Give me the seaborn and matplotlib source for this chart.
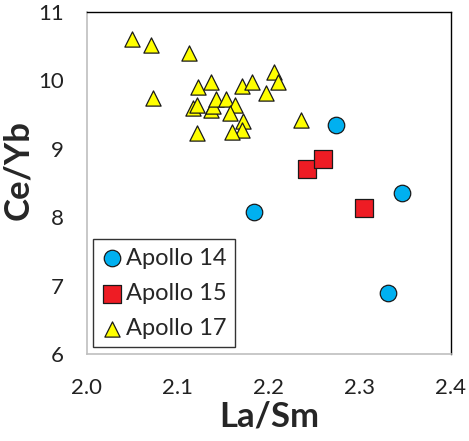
import matplotlib
matplotlib.use("Agg")
import matplotlib.pyplot as plt
import seaborn as sns
import pandas as pd

# La/Sm and Ce/Yb ratios for lunar samples by mission
apollo14_la_sm = [2.274, 2.183, 2.346, 2.331]
apollo14_ce_yb = [9.35, 8.08, 8.35, 6.89]

apollo15_la_sm = [2.242, 2.259, 2.304]
apollo15_ce_yb = [8.70, 8.85, 8.13]

apollo17_la_sm = [2.050, 2.070, 2.112, 2.072, 2.122, 2.136, 2.170, 2.181,
                  2.205, 2.210, 2.197, 2.117, 2.121, 2.136, 2.138, 2.142,
                  2.153, 2.163, 2.157, 2.172, 2.170, 2.159, 2.121, 2.235]
apollo17_ce_yb = [10.61, 10.52, 10.40, 9.74, 9.91, 9.98, 9.92, 9.98,
                  10.12, 9.98, 9.82, 9.59, 9.64, 9.56, 9.63, 9.73,
                  9.73, 9.64, 9.53, 9.41, 9.27, 9.24, 9.23, 9.42]

missions = ["Apollo 14", "Apollo 15", "Apollo 17"]
x_ticks = [2.0, 2.1, 2.2, 2.3, 2.4]
y_ticks = [6, 7, 8, 9, 10, 11]

df = pd.concat([
    pd.DataFrame({"La/Sm": apollo14_la_sm, "Ce/Yb": apollo14_ce_yb, "mission": missions[0]}),
    pd.DataFrame({"La/Sm": apollo15_la_sm, "Ce/Yb": apollo15_ce_yb, "mission": missions[1]}),
    pd.DataFrame({"La/Sm": apollo17_la_sm, "Ce/Yb": apollo17_ce_yb, "mission": missions[2]}),
], ignore_index=True)

sns.set_style("white")
plt.rcParams["font.family"] = ["Lato", "DejaVu Sans"]

styles = {
    "Apollo 14": dict(marker="o", color="#00B0F0", s=141),
    "Apollo 15": dict(marker="s", color="#EE1C24", s=165),
    "Apollo 17": dict(marker="^", color="#FFFF00", s=120),
}

fig = plt.figure(figsize=(4.69, 4.41), dpi=100)
ax = fig.add_axes([0.1855, 0.197, 0.776, 0.776])

for m in missions:
    st = styles[m]
    sns.scatterplot(data=df[df["mission"] == m], x="La/Sm", y="Ce/Yb",
                    marker=st["marker"], color=st["color"], s=st["s"],
                    edgecolor="#1a1a1a", linewidth=0.9, label=m, ax=ax,
                    zorder=3)

ax.set_xlim(2.0, 2.4)
ax.set_ylim(6, 11)
ax.set_xticks(x_ticks)
ax.set_xticklabels([f"{v:.1f}" for v in x_ticks])
ax.set_yticks(y_ticks)
ax.set_yticklabels([str(v) for v in y_ticks])

for side in ("left", "bottom"):
    ax.spines[side].set_color("#BFBFBF")
    ax.spines[side].set_linewidth(1.2)
for side in ("top", "right"):
    ax.spines[side].set_color("#000000")
    ax.spines[side].set_linewidth(1.0)
    ax.spines[side].set_visible(True)

ax.tick_params(axis="both", direction="out", length=5, width=1.0,
               color="#BFBFBF", labelsize=16, labelcolor="#222222")
ax.tick_params(axis="y", pad=11.5)
ax.tick_params(axis="x", pad=12)

ax.set_xlabel("La/Sm", fontsize=25, fontweight="bold", labelpad=2)
ax.set_ylabel("Ce/Yb", fontsize=25, fontweight="bold", labelpad=3, y=0.538)

leg = ax.legend(loc="lower left", bbox_to_anchor=(0.016, 0.02), fontsize=17,
                frameon=True, fancybox=False, edgecolor="#000000",
                handletextpad=0.1, borderpad=0.35, labelspacing=0.6,
                handlelength=0.95, borderaxespad=0)
leg.get_frame().set_linewidth(1.0)

fig.savefig("out.png", dpi=100)
